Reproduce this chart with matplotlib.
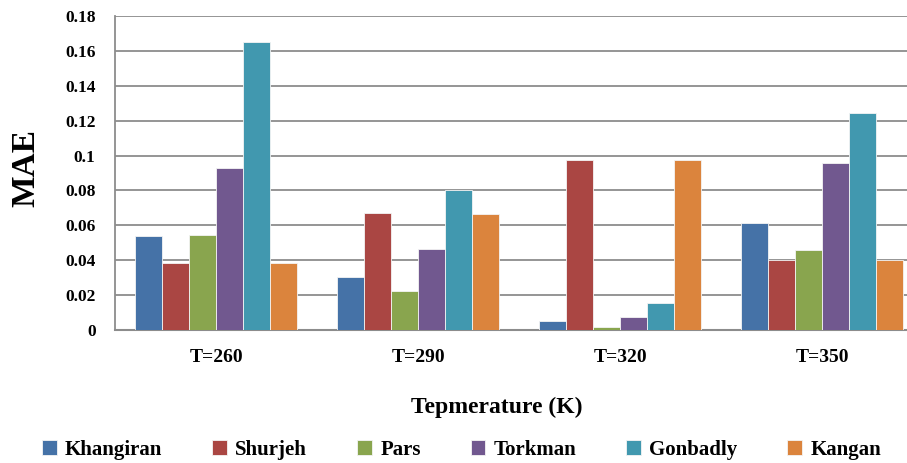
import numpy as np
import matplotlib
matplotlib.use("Agg")
import matplotlib.pyplot as plt

plt.rcParams['font.family'] = ['Liberation Serif', 'DejaVu Serif']
plt.rcParams['font.weight'] = 'bold'

# Data
categories = ["T=260", "T=290", "T=320", "T=350"]
series_names = ["Khangiran", "Shurjeh", "Pars", "Torkman", "Gonbadly", "Kangan"]
khangiran = [0.0539, 0.0306, 0.0054, 0.0611]
shurjeh = [0.0382, 0.0669, 0.0975, 0.0401]
pars = [0.0545, 0.0224, 0.0015, 0.0459]
torkman = [0.0931, 0.0466, 0.0076, 0.0957]
gonbadly = [0.1653, 0.0801, 0.0157, 0.1246]
kangan = [0.0382, 0.0667, 0.0975, 0.0401]
yticks = [0, 0.02, 0.04, 0.06, 0.08, 0.1, 0.12, 0.14, 0.16, 0.18]
ytick_labels = ["0", "0.02", "0.04", "0.06", "0.08", "0.1", "0.12", "0.14", "0.16", "0.18"]

series = [khangiran, shurjeh, pars, torkman, gonbadly, kangan]
colors = ["#4572A7", "#AA4643", "#89A54E", "#71588F", "#4198AF", "#DB843D"]

fig = plt.figure(figsize=(9.07, 4.63), dpi=100)
ax = fig.add_axes([0.1268, 0.2873, 0.8732, 0.6782])

x = np.arange(len(categories))
width = 0.8 / len(series)
for i, (name, vals, c) in enumerate(zip(series_names, series, colors)):
    offs = (i - (len(series) - 1) / 2) * width
    ax.bar(x + offs, vals, width, color=c, edgecolor="#f4f4f4",
           linewidth=0.6, label=name, zorder=3)

ax.set_xlim(-0.5, 3.42)
ax.set_ylim(0, 0.18)
ax.set_yticks(yticks)
ax.set_yticklabels(ytick_labels, fontsize=12.5, fontweight='bold')
ax.set_xticks(x)
ax.set_xticklabels(categories, fontsize=14, fontweight='bold')
ax.tick_params(axis='y', length=0, pad=14)
ax.tick_params(axis='x', length=0, pad=14)

ax.grid(axis='y', color="#8c8c8c", linewidth=1.3, zorder=0)
ax.set_axisbelow(True)
for s in ["top", "right"]:
    ax.spines[s].set_visible(False)
ax.spines["left"].set_color("#8c8c8c")
ax.spines["left"].set_linewidth(1.3)
ax.spines["bottom"].set_color("#8c8c8c")
ax.spines["bottom"].set_linewidth(1.5)

fig.text(0.548, 0.12, "Tepmerature (K)", ha='center', va='center',
         fontsize=17, fontweight='bold')
fig.text(0.028, 0.637, "MAE", ha='center', va='center', rotation=90,
         fontsize=24, fontweight='bold')

handles, labels = ax.get_legend_handles_labels()
fig.legend(handles, labels, loc='center', bbox_to_anchor=(0.509, 0.028), ncol=6,
           frameon=False, fontsize=15, handlelength=0.7, handleheight=0.7,
           handletextpad=0.4, columnspacing=2.4, borderaxespad=0)

fig.savefig("out.png", dpi=100)
